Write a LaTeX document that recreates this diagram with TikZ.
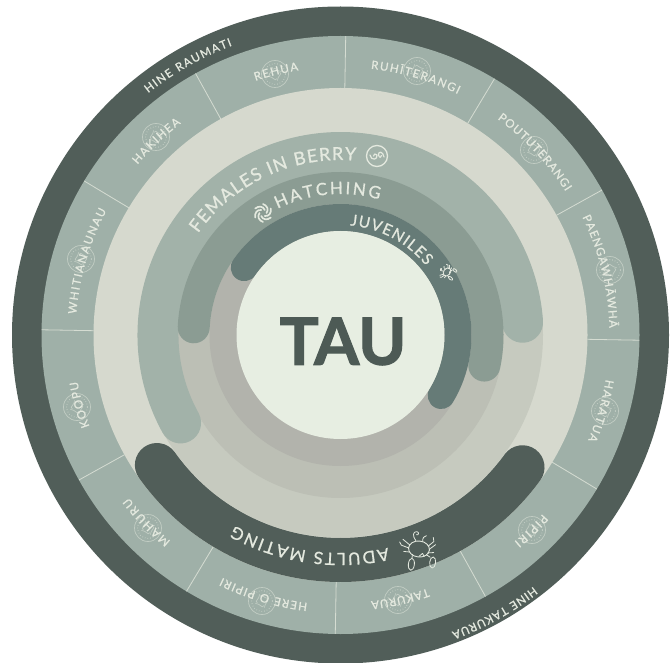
\documentclass[tikz,border=0pt]{standalone}
\usepackage{fontspec}
\setmainfont{Lato}
\newfontfamily\medfont{Lato}[FakeBold=0.9]
\newfontfamily\heavyfont{Lato Bold}[FakeBold=1.6]
\usetikzlibrary{decorations.text}
\definecolor{ringdark}{HTML}{515E59}
\definecolor{ringmonth}{HTML}{9FB0A8}
\definecolor{ringlight}{HTML}{D6D9CE}
\definecolor{bandfem}{HTML}{A2B2A9}
\definecolor{bandhat}{HTML}{8B9C93}
\definecolor{bandjuv}{HTML}{667B77}
\definecolor{coreA}{HTML}{C6CABF}
\definecolor{coreB}{HTML}{BCBFB5}
\definecolor{coreC}{HTML}{B2B3AC}
\definecolor{discc}{HTML}{E7EEE2}
\definecolor{taucol}{HTML}{4D5A55}
\definecolor{inkl}{HTML}{E4E9DF}
\definecolor{sepc}{HTML}{D5DCD2}
\tikzset{
  x=1pt,y=1pt,
  bandline/.style={line cap=round,line width=#1},
  sepline/.style={draw=sepc,line width=.8pt},
  medal/.style={draw=inkl,opacity=.5,line width=.7pt},
  iconline/.style={draw=inkl,line width=#1,line cap=round,line join=round},
}
\newcommand{\arclabel}[5]{%
  \path[decorate,decoration={text along path,text align={fit to path},
    text={|\medfont\fontsize{#4}{#4}\selectfont\color{inkl}|#5}}]
    (#2:#1) arc[start angle=#2,end angle=#3,radius=#1];}
\newcommand{\medallion}[2]{%
  \begin{scope}[shift={(#1,#2)}]
    \draw[medal] (0,0) circle[radius=13.5];
    \draw[medal,dotted,line width=1pt] (0,0) circle[radius=10.5];
    \foreach \a in {20,110,200,290}{
      \draw[medal] (\a:7) .. controls (\a+40:3) and (\a+70:8) .. (\a+90:5);
    }
  \end{scope}}
\newcommand{\crabicon}[4]{%
  \begin{scope}[shift={(#1,#2)},rotate=#3,scale=#4]
    \draw[iconline=.9pt] (0,0) ellipse[x radius=10.5,y radius=8];
    \draw[iconline=.8pt] (-9.5,3) -- (-17,8);
    \draw[iconline=.8pt] (-10.5,0) -- (-18,2) -- (-20,5);
    \draw[iconline=.8pt] (-9,-4) -- (-15,-4);
    \draw[iconline=.8pt] (9,4) -- (14,9) -- (13,13);
    \draw[iconline=.8pt] (10.5,1) -- (16,6);
    \draw[iconline=.8pt] (9,-3) -- (15,-2);
    \draw[iconline=.8pt] (-4,8) .. controls (-8,12) and (-8,17) .. (-4,17) .. controls (-1,17) and (-2,13) .. (-4,14);
    \draw[iconline=.8pt] (3,8) .. controls (2,11) and (4,14) .. (6,14);
    \draw[iconline=.8pt] (-6,-6) -- (-6,-10);
    \draw[iconline=.8pt] (-6,-16) ellipse[x radius=3,y radius=6];
    \draw[iconline=.8pt] (8,-5) -- (12,-7);
    \draw[iconline=.8pt] (15,-12) ellipse[x radius=3,y radius=5.5];
    \draw[iconline=.8pt] (1,-7) -- (4,-4) -- (6,-7);
  \end{scope}}
\begin{document}
\begin{tikzpicture}
\useasboundingbox (0,0) rectangle (672,-663);
\clip (0,0) rectangle (672,-663);
\fill[white] (0,0) rectangle (672,-663);
\begin{scope}[shift={(340.5,-335)}]
  % rings
  \fill[ringdark] (0,0) circle[radius=328.5];
  \fill[ringmonth] (0,0) circle[radius=299];
  \foreach \a in {29,59,...,359}{
    \draw[sepline] (\a:247) -- (\a:299);
  }
  \fill[ringlight] (0,0) circle[radius=247];
  \fill[coreA] (0,0) circle[radius=202.5];
  \fill[coreB] (0,0) circle[radius=163];
  \fill[coreC] (0,0) circle[radius=131];
  % life stage bands
  \draw[bandline=41pt,draw=bandfem] (208.8:182.5) arc[start angle=208.8,end angle=4,radius=182.5];
  \draw[bandline=32pt,draw=bandhat] (177:147) arc[start angle=177,end angle=-12,radius=147];
  \draw[bandline=27pt,draw=bandjuv] (145:117.5) arc[start angle=145,end angle=-31,radius=117.5];
  \draw[bandline=44pt,draw=ringdark] (215.3:225) arc[start angle=215.3,end angle=324,radius=225];
  \fill[discc] (0,0) circle[radius=104];
\end{scope}
\begin{scope}[shift={(340.5,-335)}]
  \arclabel{309}{128.5}{110.5}{11.5}{HINE RAUMATI}
  \arclabel{317}{-52.5}{-69.5}{11.5}{HINE TAKURUA}
  \arclabel{268}{108.5}{99}{11.5}{REHUA}
  \arclabel{268}{83.5}{64}{11.5}{RUHĪTERANGI}
  \arclabel{267}{54}{32.5}{11.5}{POUTUTERANGI}
  \arclabel{269}{26}{1.5}{11.5}{PAENGAWHĀWHĀ}
  \arclabel{269}{-9.5}{-23}{11.5}{HARATUA}
  \arclabel{270}{-41.5}{-50}{11.5}{PIPIRI}
  \arclabel{268}{-71}{-83.5}{11.5}{TAKURUA}
  \arclabel{270}{-97}{-116}{11.5}{HERE O PIPIRI}
  \arclabel{267}{-129.5}{-142.5}{11.5}{MAHURU}
  \arclabel{267}{-160}{-170}{11.5}{KOOPU}
  \arclabel{265}{175.5}{152}{11.5}{WHITIANAUNAU}
  \arclabel{265}{140}{127}{11.5}{HAKIHEA}
  \arclabel{175}{144.5}{85}{18}{FEMALES IN BERRY}
  \arclabel{141}{116.5}{74}{17}{HATCHING}
  \arclabel{110}{85}{39}{15.5}{JUVENILES}
  \arclabel{218}{-77.5}{-119}{17}{ADULTS MATING}
\end{scope}
% month medallions
\medallion{275}{-74}
\medallion{417}{-71}
\medallion{156}{-137}
\medallion{534}{-150}
\medallion{610}{-270}
\medallion{605}{-411}
\medallion{532}{-530}
\medallion{398}{-600}
\medallion{262}{-601}
\medallion{148}{-528}
\medallion{77}{-407}
\medallion{81}{-259}
% females icon
\begin{scope}[shift={(377,-156)}]
  \draw[iconline=1.3pt] (0,0) circle[radius=10.5];
  \draw[iconline=1.2pt] (-7,1) .. controls (-6,-5) and (1,-4) .. (0,1) .. controls (-1,3) and (-4,2) .. (-3.5,0);
  \draw[iconline=1.2pt] (7,-1) .. controls (6,5) and (1,5) .. (1.5,1) .. controls (2,-2) and (5,-2) .. (4.5,0.5);
\end{scope}
% hatching icon
\begin{scope}[shift={(263,-213)}]
  \foreach \a in {0,60,...,300}{
    \draw[iconline=1.7pt] (\a:3.5) .. controls (\a+30:7) and (\a+60:8.5) .. (\a+90:9);
  }
\end{scope}
% crabs
\crabicon{419}{-549}{-6}{1}
\crabicon{447}{-272}{50}{.42}
% centre label
\node[font=\heavyfont\fontsize{65}{65}\selectfont,text=taucol,inner sep=0pt] (tau) at (343,-341.5) {TAU};
\end{tikzpicture}
\end{document}
